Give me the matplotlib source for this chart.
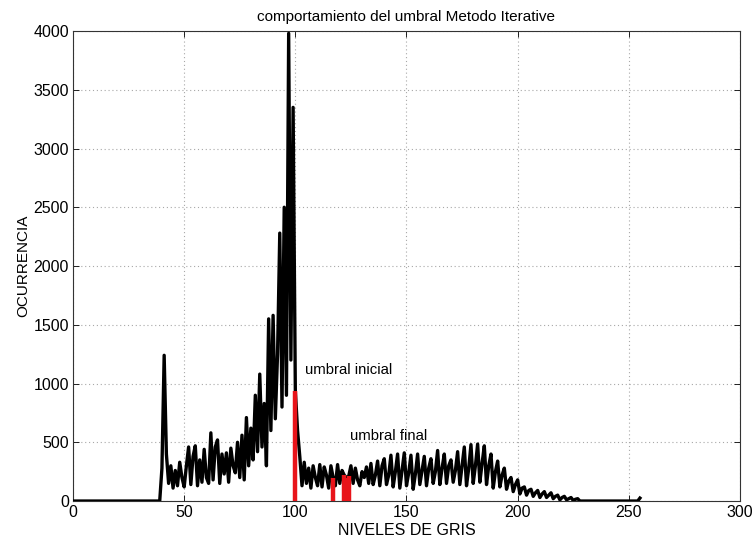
import numpy as np
import matplotlib
matplotlib.use("Agg")
import matplotlib.pyplot as plt

plt.rcParams['font.family'] = ['Liberation Sans', 'DejaVu Sans']

# Gray-level histogram (levels 0..255)
counts_0_39 = [0] * 40
counts_40_69 = [280, 1240, 400, 150, 300, 110, 260, 130, 330, 200,
                120, 300, 460, 140, 380, 470, 130, 350, 160, 440,
                200, 150, 580, 180, 460, 520, 150, 400, 230, 410]
counts_70_100 = [160, 450, 300, 240, 500, 200, 560, 180, 710, 300,
                 620, 350, 900, 420, 1080, 460, 830, 300, 1550, 600,
                 1580, 700, 1250, 2280, 800, 2500, 900, 3980, 1200, 3350,
                 940]
counts_101_140 = [600, 380, 130, 330, 150, 280, 110, 300, 200, 130,
                  310, 120, 290, 220, 110, 300, 200, 130, 310, 150,
                  260, 220, 200, 210, 300, 150, 280, 180, 130, 250,
                  200, 290, 150, 320, 140, 220, 340, 130, 300, 360]
counts_141_200 = [140, 220, 390, 120, 250, 400, 110, 260, 410, 130,
                  240, 390, 100, 230, 400, 140, 260, 380, 130, 280,
                  360, 150, 250, 430, 140, 280, 400, 150, 300, 350,
                  160, 260, 420, 140, 300, 460, 130, 280, 480, 150,
                  300, 485, 160, 320, 470, 140, 300, 400, 110, 250,
                  340, 120, 220, 280, 100, 170, 200, 80, 140, 180]
counts_201_228 = [60, 110, 120, 50, 90, 100, 40, 70, 90, 30,
                  60, 80, 30, 50, 70, 20, 40, 50, 10, 30,
                  40, 10, 20, 30, 5, 15, 20, 0]
counts_229_254 = [0] * 26
counts_255 = [25]

counts = np.array(counts_0_39 + counts_40_69 + counts_70_100 + counts_101_140
                  + counts_141_200 + counts_201_228 + counts_229_254 + counts_255)
gray_levels = np.arange(len(counts))

# Thresholds found by the iterative method (first one is the initial guess)
thresholds = [100, 117, 122, 123, 124]

x_ticks = [0, 50, 100, 150, 200, 250, 300]
y_ticks = [0, 500, 1000, 1500, 2000, 2500, 3000, 3500, 4000]

fig = plt.figure(figsize=(7.55, 5.42), dpi=100)
ax = fig.add_axes([0.0967, 0.0756, 0.8834, 0.8672])

ax.plot(gray_levels, counts, color='black', linewidth=2.4, zorder=3)
for t in thresholds:
    ax.plot([t, t], [0, counts[t]], color='#e8141a', linewidth=3.2,
            solid_capstyle='butt', zorder=4)

ax.text(104.5, 1115, 'umbral inicial', fontsize=10.7, va='center', ha='left')
ax.text(124.8, 555, 'umbral final', fontsize=10.7, va='center', ha='left')

ax.set_xlim(0, 300)
ax.set_ylim(0, 4000)
ax.set_xticks(x_ticks)
ax.set_yticks(y_ticks)
ax.tick_params(direction='in', length=4, width=0.6, top=True, right=True,
               labelsize=11.5, colors='black', pad=3)
ax.grid(True, linestyle=(0, (1, 2.5)), color='#a8a8a8', linewidth=0.8)
ax.set_axisbelow(True)
for s in ax.spines.values():
    s.set_linewidth(0.8)
    s.set_color('#333333')

ax.set_title('comportamiento del umbral Metodo Iterative', fontsize=11, pad=7)
ax.set_xlabel('NIVELES DE GRIS', fontsize=11.5, labelpad=2)
ax.set_ylabel('OCURRENCIA', fontsize=11, labelpad=2)

fig.savefig('out.png', dpi=100)
